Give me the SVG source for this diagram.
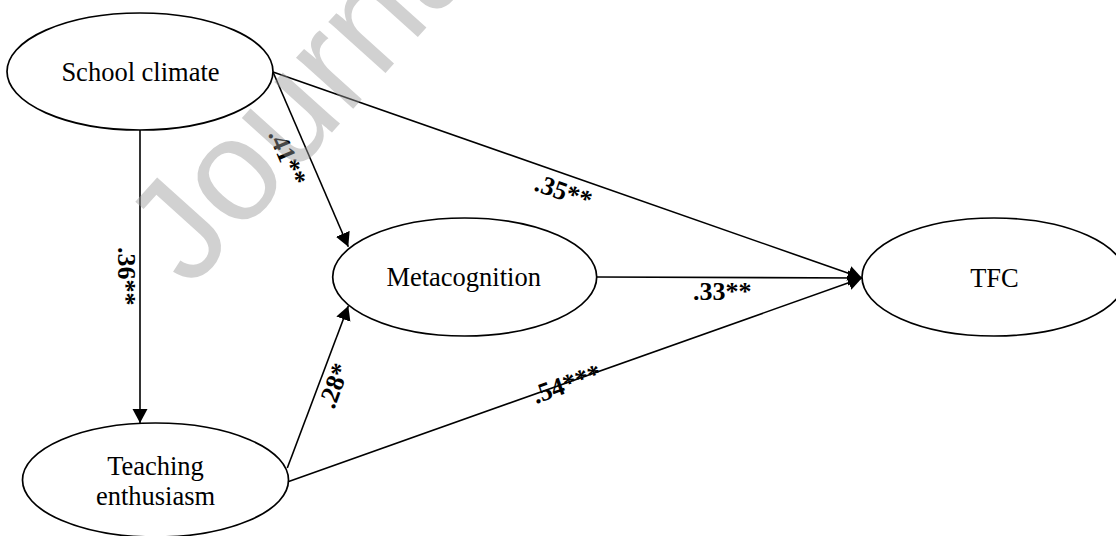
<svg xmlns="http://www.w3.org/2000/svg" width="1116" height="536" viewBox="0 0 1116 536">
  <defs>
    <marker id="arrow" markerUnits="userSpaceOnUse" markerWidth="16" markerHeight="16" refX="14" refY="7.5" orient="auto">
      <path d="M0,0 L14,7.5 L0,15 z" fill="#000"/>
    </marker>
    <style>
      .node ellipse { fill: #fff; stroke: #000; stroke-width: 1.7; }
      .node text { font-family: "Liberation Serif", "Times New Roman", serif; font-size: 26.5px; fill: #000; text-anchor: middle; }
      .edge { stroke: #000; stroke-width: 1.6; fill: none; marker-end: url(#arrow); }
      .lbl { font-family: "Liberation Serif", "Times New Roman", serif; font-size: 26px; font-weight: bold; fill: #000; }
      .wm { font-family: "Liberation Sans", Arial, sans-serif; font-size: 145px; fill: #9a9a9a; opacity: 0.45; }
    </style>
  </defs>
  <rect width="1116" height="536" fill="#fff"/>

  <g id="connectors">
    <line class="edge" x1="140" y1="130" x2="140" y2="423"/>
    <line class="edge" x1="273" y1="72" x2="348.3" y2="246.7"/>
    <line class="edge" x1="273" y1="72" x2="862" y2="278"/>
    <line class="edge" x1="597" y1="277" x2="862" y2="278"/>
    <line class="edge" x1="287.3" y1="468" x2="348.3" y2="306"/>
    <line class="edge" x1="288" y1="481.7" x2="862" y2="278"/>
  </g>

  <g id="node-school-climate" class="node">
    <ellipse cx="140" cy="71.5" rx="133" ry="58.5"/>
    <text x="140.5" y="81">School climate</text>
  </g>
  <g id="node-metacognition" class="node">
    <ellipse cx="464.7" cy="277" rx="132" ry="59"/>
    <text x="463.7" y="286">Metacognition</text>
  </g>
  <g id="node-tfc" class="node">
    <ellipse cx="994" cy="277" rx="132" ry="59"/>
    <text x="994.5" y="287">TFC</text>
  </g>
  <g id="node-teaching-enthusiasm" class="node">
    <ellipse cx="155.5" cy="480" rx="133" ry="57"/>
    <text x="155.5" y="475">Teaching</text>
    <text x="155.5" y="505">enthusiasm</text>
  </g>

  <g id="labels">
    <text class="lbl" transform="translate(118,247) rotate(90)">.36**</text>
    <text class="lbl" transform="translate(268,134) rotate(66.8)">.41**</text>
    <text class="lbl" transform="translate(533,190) rotate(19.3)">.35**</text>
    <text class="lbl" x="693" y="300">.33**</text>
    <text class="lbl" transform="translate(334,410) rotate(-69.4)">.28*</text>
    <text class="lbl" transform="translate(536,404) rotate(-19.6)">.54***</text>
  </g>

  <text class="wm" transform="translate(190,290) rotate(-48)">Journal</text>
</svg>
